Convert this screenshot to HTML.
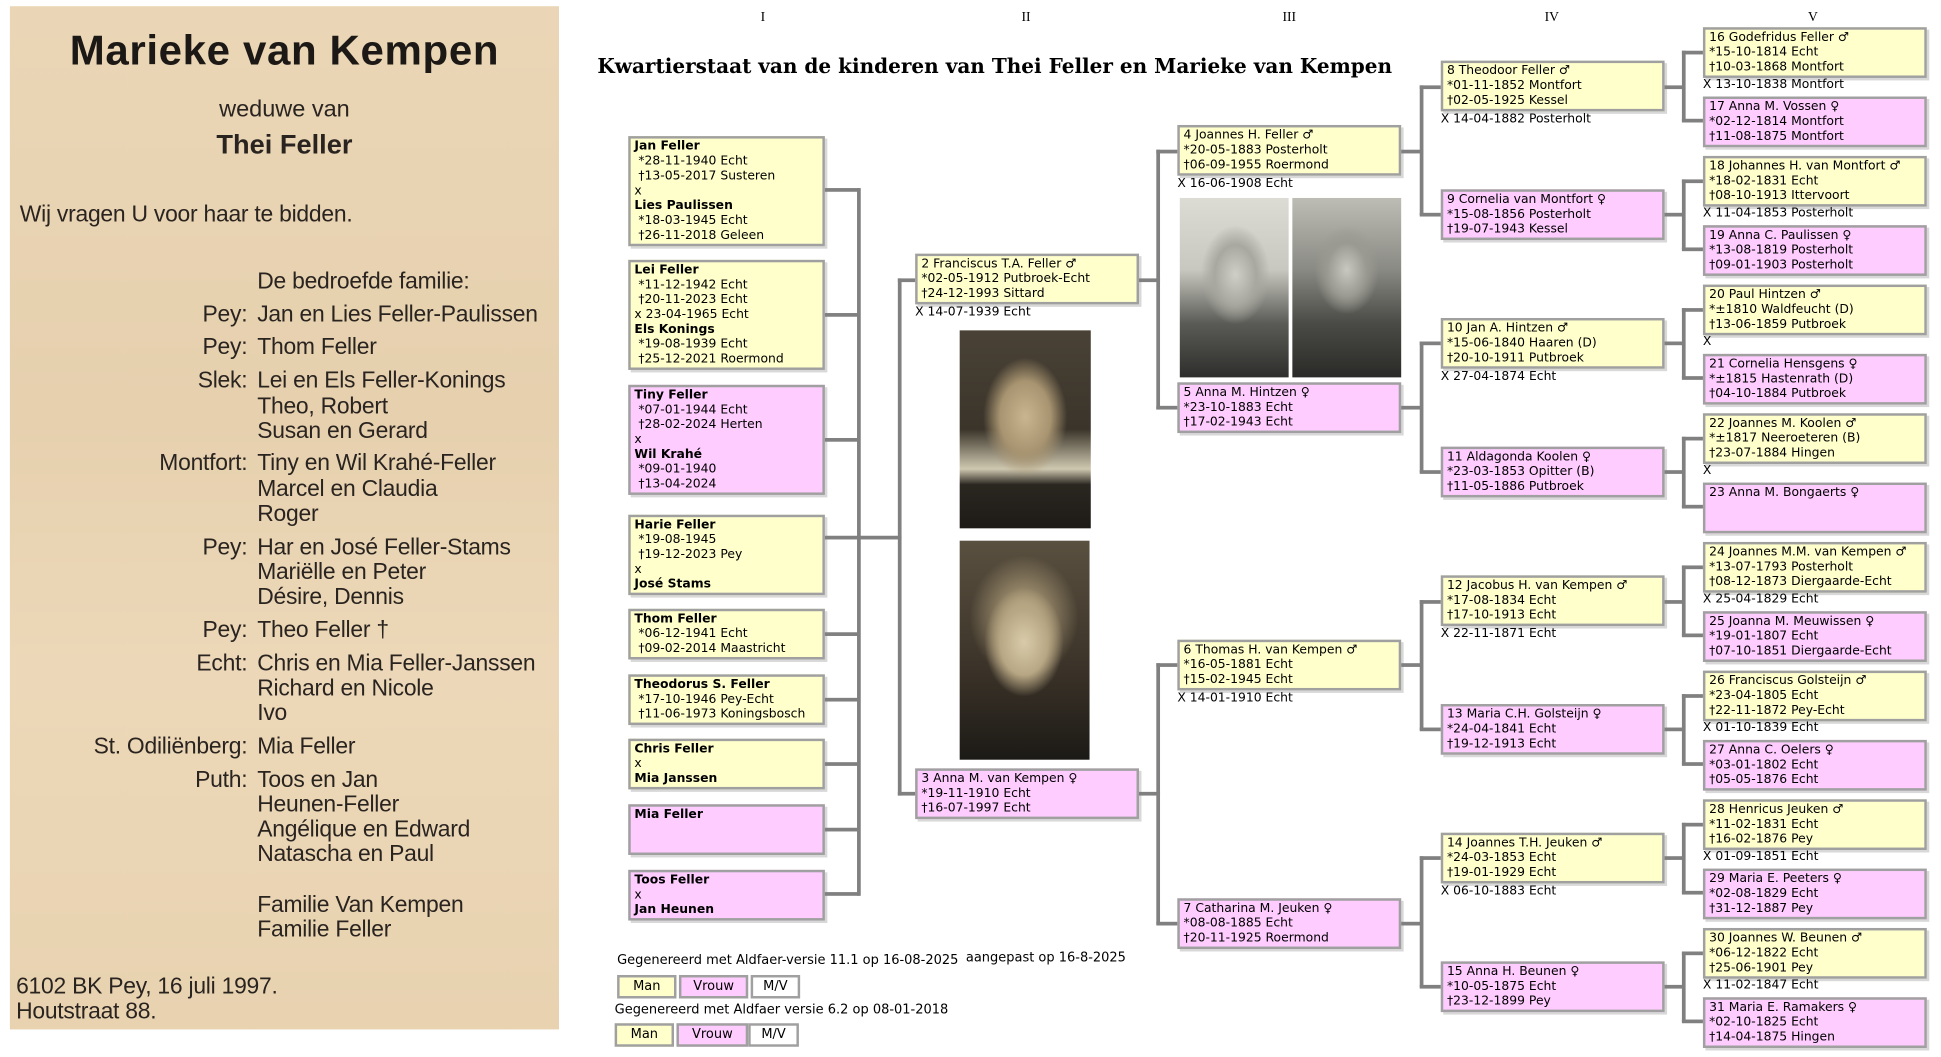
<!DOCTYPE html>
<html><head><meta charset="utf-8">
<style>
html,body{margin:0;padding:0;background:#fff;}
body{width:1941px;height:1057px;overflow:hidden;position:relative;}
#w{position:absolute;left:0;top:0;width:1560px;height:850px;transform:scale(1.2367,1.2373);transform-origin:0 0;font-family:"DejaVu Sans","Liberation Sans",sans-serif;font-size:10px;color:#000;}
.b{position:absolute;box-sizing:border-box;border:2px solid #a0a0a0;box-shadow:2px 2px 0 #d8d8d8;padding:1px 3px;line-height:12px;font-size:10px;white-space:nowrap;overflow:hidden;}
.m{background:#ffffcc;}.f{background:#ffccff;}
.t{position:absolute;font-size:10px;line-height:12px;white-space:nowrap;}
.h{position:absolute;height:3px;background:#808080;}
.v{position:absolute;width:3px;background:#808080;}
.cl{position:absolute;top:8px;font-family:"Liberation Serif",serif;font-size:11px;}
#np{position:absolute;left:8px;top:5px;width:444px;height:827px;background:linear-gradient(180deg,#ead6b6 0%,#e6d0ae 40%,#ecd8b8 65%,#e8d2b0 100%);font-family:"Liberation Sans",sans-serif;color:#2a2420;}
#np div{position:absolute;white-space:nowrap;}
.nl{font-size:18.5px;line-height:20px;letter-spacing:-0.2px;}
.lab{right:252px;text-align:right;}
.val{left:200px;}
.ph{position:absolute;}
.btn{position:absolute;box-sizing:border-box;border:2px solid #a0a0a0;font-size:10.5px;text-align:center;line-height:14px;}
</style></head><body><div id="w">

<div id="np">
<div style="left:0;width:444px;top:16px;text-align:center;font-size:34px;font-weight:bold;line-height:40px;color:#1c1815;letter-spacing:0.5px">Marieke van Kempen</div>
<div style="left:0;width:444px;top:72px;text-align:center;font-size:19px;line-height:24px">weduwe van</div>
<div style="left:0;width:444px;top:98px;text-align:center;font-size:22px;font-weight:bold;line-height:28px">Thei Feller</div>
<div class="nl" style="left:8px;top:158px">Wij vragen U voor haar te bidden.</div>
<div class="nl val" style="top:212px">De bedroefde familie:</div>
<div class="nl lab" style="top:239px">Pey:</div><div class="nl val" style="top:239px">Jan en Lies Feller-Paulissen</div>
<div class="nl lab" style="top:265px">Pey:</div><div class="nl val" style="top:265px">Thom Feller</div>
<div class="nl lab" style="top:292px">Slek:</div><div class="nl val" style="top:292px">Lei en Els Feller-Konings</div>
<div class="nl val" style="top:313px">Theo, Robert</div>
<div class="nl val" style="top:333px">Susan en Gerard</div>
<div class="nl lab" style="top:359px">Montfort:</div><div class="nl val" style="top:359px">Tiny en Wil Krahé-Feller</div>
<div class="nl val" style="top:380px">Marcel en Claudia</div>
<div class="nl val" style="top:400px">Roger</div>
<div class="nl lab" style="top:427px">Pey:</div><div class="nl val" style="top:427px">Har en José Feller-Stams</div>
<div class="nl val" style="top:447px">Mariëlle en Peter</div>
<div class="nl val" style="top:467px">Désire, Dennis</div>
<div class="nl lab" style="top:494px">Pey:</div><div class="nl val" style="top:494px">Theo Feller †</div>
<div class="nl lab" style="top:521px">Echt:</div><div class="nl val" style="top:521px">Chris en Mia Feller-Janssen</div>
<div class="nl val" style="top:541px">Richard en Nicole</div>
<div class="nl val" style="top:561px">Ivo</div>
<div class="nl lab" style="top:588px">St. Odiliënberg:</div><div class="nl val" style="top:588px">Mia Feller</div>
<div class="nl lab" style="top:615px">Puth:</div><div class="nl val" style="top:615px">Toos en Jan</div>
<div class="nl val" style="top:635px">Heunen-Feller</div>
<div class="nl val" style="top:655px">Angélique en Edward</div>
<div class="nl val" style="top:675px">Natascha en Paul</div>
<div class="nl val" style="top:716px">Familie Van Kempen</div>
<div class="nl val" style="top:736px">Familie Feller</div>
<div class="nl" style="left:5px;top:782px">6102 BK Pey, 16 juli 1997.</div>
<div class="nl" style="left:5px;top:802px">Houtstraat 88.</div>
</div>

<div class="cl" style="left:615px">I</div>
<div class="cl" style="left:826px">II</div>
<div class="cl" style="left:1037px">III</div>
<div class="cl" style="left:1249px">IV</div>
<div class="cl" style="left:1462px">V</div>
<div style="position:absolute;left:483px;top:44px;font-family:'DejaVu Serif','Liberation Serif',serif;font-weight:bold;font-size:16.2px;white-space:nowrap">Kwartierstaat van de kinderen van Thei Feller en Marieke van Kempen</div>

<!-- Column I -->
<div class="b m" style="left:508px;top:110px;width:159px;height:89px"><b>Jan Feller</b><br>&nbsp;*28-11-1940 Echt<br>&nbsp;†13-05-2017 Susteren<br>x<br><b>Lies Paulissen</b><br>&nbsp;*18-03-1945 Echt<br>&nbsp;†26-11-2018 Geleen</div>
<div class="b m" style="left:508px;top:210px;width:159px;height:89px"><b>Lei Feller</b><br>&nbsp;*11-12-1942 Echt<br>&nbsp;†20-11-2023 Echt<br>x 23-04-1965 Echt<br><b>Els Konings</b><br>&nbsp;*19-08-1939 Echt<br>&nbsp;†25-12-2021 Roermond</div>
<div class="b f" style="left:508px;top:311px;width:159px;height:89px"><b>Tiny Feller</b><br>&nbsp;*07-01-1944 Echt<br>&nbsp;†28-02-2024 Herten<br>x<br><b>Wil Krahé</b><br>&nbsp;*09-01-1940<br>&nbsp;†13-04-2024</div>
<div class="b m" style="left:508px;top:416px;width:159px;height:65px"><b>Harie Feller</b><br>&nbsp;*19-08-1945<br>&nbsp;†19-12-2023 Pey<br>x<br><b>José Stams</b></div>
<div class="b m" style="left:508px;top:492px;width:159px;height:41px"><b>Thom Feller</b><br>&nbsp;*06-12-1941 Echt<br>&nbsp;†09-02-2014 Maastricht</div>
<div class="b m" style="left:508px;top:545px;width:159px;height:41px"><b>Theodorus S. Feller</b><br>&nbsp;*17-10-1946 Pey-Echt<br>&nbsp;†11-06-1973 Koningsbosch</div>
<div class="b m" style="left:508px;top:597px;width:159px;height:41px"><b>Chris Feller</b><br>x<br><b>Mia Janssen</b></div>
<div class="b f" style="left:508px;top:650px;width:159px;height:41px"><b>Mia Feller</b></div>
<div class="b f" style="left:508px;top:703px;width:159px;height:41px"><b>Toos Feller</b><br>x<br><b>Jan Heunen</b></div>

<div class="h" style="left:667px;top:152px;width:28px"></div>
<div class="h" style="left:667px;top:253px;width:28px"></div>
<div class="h" style="left:667px;top:354px;width:28px"></div>
<div class="h" style="left:667px;top:433px;width:28px"></div>
<div class="h" style="left:667px;top:511px;width:28px"></div>
<div class="h" style="left:667px;top:564px;width:28px"></div>
<div class="h" style="left:667px;top:616px;width:28px"></div>
<div class="h" style="left:667px;top:669px;width:28px"></div>
<div class="h" style="left:667px;top:721px;width:28px"></div>
<div class="v" style="left:693px;top:152px;height:572px"></div>
<div class="h" style="left:693px;top:433px;width:36px"></div>
<div class="v" style="left:726px;top:225px;height:418px"></div>
<div class="h" style="left:726px;top:225px;width:15px"></div>
<div class="h" style="left:726px;top:640px;width:15px"></div>

<!-- Column II -->
<div class="b m" style="left:740px;top:205px;width:181px;height:41px">2 Franciscus T.A. Feller ♂<br>*02-05-1912 Putbroek-Echt<br>†24-12-1993 Sittard</div>
<div class="t" style="left:740px;top:247px">X 14-07-1939 Echt</div>
<div class="ph" style="left:776px;top:267px;width:106px;height:160px;background:radial-gradient(ellipse 34px 48px at 53px 70px,#c9b58f 0%,#a89470 60%,transparent 100%),linear-gradient(180deg,#4a4236 0%,#3a342a 50%,#cfc8b0 70%,#2a2620 78%,#1e1b17 100%)"></div>
<div class="ph" style="left:776px;top:437px;width:105px;height:177px;background:radial-gradient(ellipse 32px 44px at 52px 82px,#d9cbaa 0%,#b8a784 60%,transparent 100%),radial-gradient(ellipse 44px 50px at 52px 62px,#c9b68c 0%,transparent 100%),linear-gradient(180deg,#5a5040 0%,#3a3228 60%,#1c1a16 100%)"></div>
<div class="b f" style="left:740px;top:621px;width:181px;height:41px">3 Anna M. van Kempen ♀<br>*19-11-1910 Echt<br>†16-07-1997 Echt</div>

<div class="h" style="left:921px;top:225px;width:17px"></div>
<div class="h" style="left:921px;top:640px;width:17px"></div>
<div class="v" style="left:935px;top:121px;height:210px"></div>
<div class="v" style="left:935px;top:536px;height:211px"></div>
<div class="h" style="left:935px;top:121px;width:18px"></div>
<div class="h" style="left:935px;top:328px;width:18px"></div>
<div class="h" style="left:935px;top:536px;width:18px"></div>
<div class="h" style="left:935px;top:745px;width:18px"></div>

<!-- Column III -->
<div class="b m" style="left:952px;top:101px;width:181px;height:41px">4 Joannes H. Feller ♂<br>*20-05-1883 Posterholt<br>†06-09-1955 Roermond</div>
<div class="t" style="left:952px;top:143px">X 16-06-1908 Echt</div>
<div class="ph" style="left:954px;top:160px;width:88px;height:145px;background:radial-gradient(ellipse 28px 40px at 45px 62px,#cfcfc8 0%,#a8a8a0 60%,transparent 100%),linear-gradient(180deg,#dcdcd4 0%,#c8c8c0 40%,#5a5a56 70%,#2e2e2c 100%)"></div>
<div class="ph" style="left:1045px;top:160px;width:88px;height:145px;background:radial-gradient(ellipse 26px 36px at 44px 58px,#c8c8c0 0%,#9a9a92 60%,transparent 100%),linear-gradient(180deg,#bdbdb5 0%,#8a8a84 40%,#4a4a46 70%,#2a2a28 100%)"></div>
<div class="b f" style="left:952px;top:309px;width:181px;height:41px">5 Anna M. Hintzen ♀<br>*23-10-1883 Echt<br>†17-02-1943 Echt</div>
<div class="b m" style="left:952px;top:517px;width:181px;height:41px">6 Thomas H. van Kempen ♂<br>*16-05-1881 Echt<br>†15-02-1945 Echt</div>
<div class="t" style="left:952px;top:559px">X 14-01-1910 Echt</div>
<div class="b f" style="left:952px;top:726px;width:181px;height:41px">7 Catharina M. Jeuken ♀<br>*08-08-1885 Echt<br>†20-11-1925 Roermond</div>

<div class="h" style="left:1133px;top:121px;width:17px"></div>
<div class="h" style="left:1133px;top:328px;width:17px"></div>
<div class="h" style="left:1133px;top:536px;width:17px"></div>
<div class="h" style="left:1133px;top:745px;width:17px"></div>
<div class="v" style="left:1148px;top:69px;height:105px"></div>
<div class="v" style="left:1148px;top:276px;height:106px"></div>
<div class="v" style="left:1148px;top:485px;height:105px"></div>
<div class="v" style="left:1148px;top:692px;height:106px"></div>
<div class="h" style="left:1148px;top:69px;width:18px"></div>
<div class="h" style="left:1148px;top:172px;width:18px"></div>
<div class="h" style="left:1148px;top:276px;width:18px"></div>
<div class="h" style="left:1148px;top:380px;width:18px"></div>
<div class="h" style="left:1148px;top:485px;width:18px"></div>
<div class="h" style="left:1148px;top:588px;width:18px"></div>
<div class="h" style="left:1148px;top:692px;width:18px"></div>
<div class="h" style="left:1148px;top:796px;width:18px"></div>

<!-- Column IV -->
<div class="b m" style="left:1165px;top:49px;width:181px;height:41px">8 Theodoor Feller ♂<br>*01-11-1852 Montfort<br>†02-05-1925 Kessel</div>
<div class="t" style="left:1165px;top:91px">X 14-04-1882 Posterholt</div>
<div class="b f" style="left:1165px;top:153px;width:181px;height:41px">9 Cornelia van Montfort ♀<br>*15-08-1856 Posterholt<br>†19-07-1943 Kessel</div>
<div class="b m" style="left:1165px;top:257px;width:181px;height:41px">10 Jan A. Hintzen ♂<br>*15-06-1840 Haaren (D)<br>†20-10-1911 Putbroek</div>
<div class="t" style="left:1165px;top:299px">X 27-04-1874 Echt</div>
<div class="b f" style="left:1165px;top:361px;width:181px;height:41px">11 Aldagonda Koolen ♀<br>*23-03-1853 Opitter (B)<br>†11-05-1886 Putbroek</div>
<div class="b m" style="left:1165px;top:465px;width:181px;height:41px">12 Jacobus H. van Kempen ♂<br>*17-08-1834 Echt<br>†17-10-1913 Echt</div>
<div class="t" style="left:1165px;top:507px">X 22-11-1871 Echt</div>
<div class="b f" style="left:1165px;top:569px;width:181px;height:41px">13 Maria C.H. Golsteijn ♀<br>*24-04-1841 Echt<br>†19-12-1913 Echt</div>
<div class="b m" style="left:1165px;top:673px;width:181px;height:41px">14 Joannes T.H. Jeuken ♂<br>*24-03-1853 Echt<br>†19-01-1929 Echt</div>
<div class="t" style="left:1165px;top:715px">X 06-10-1883 Echt</div>
<div class="b f" style="left:1165px;top:777px;width:181px;height:41px">15 Anna H. Beunen ♀<br>*10-05-1875 Echt<br>†23-12-1899 Pey</div>

<div class="h" style="left:1346px;top:69px;width:16px"></div>
<div class="h" style="left:1346px;top:172px;width:16px"></div>
<div class="h" style="left:1346px;top:276px;width:16px"></div>
<div class="h" style="left:1346px;top:380px;width:16px"></div>
<div class="h" style="left:1346px;top:485px;width:16px"></div>
<div class="h" style="left:1346px;top:588px;width:16px"></div>
<div class="h" style="left:1346px;top:692px;width:16px"></div>
<div class="h" style="left:1346px;top:796px;width:16px"></div>
<div class="v" style="left:1360px;top:41px;height:57px"></div>
<div class="v" style="left:1360px;top:145px;height:57px"></div>
<div class="v" style="left:1360px;top:249px;height:57px"></div>
<div class="v" style="left:1360px;top:353px;height:57px"></div>
<div class="v" style="left:1360px;top:457px;height:57px"></div>
<div class="v" style="left:1360px;top:561px;height:57px"></div>
<div class="v" style="left:1360px;top:665px;height:57px"></div>
<div class="v" style="left:1360px;top:769px;height:57px"></div>
<div class="h" style="left:1360px;top:41px;width:18px"></div><div class="h" style="left:1360px;top:96px;width:18px"></div>
<div class="h" style="left:1360px;top:145px;width:18px"></div><div class="h" style="left:1360px;top:200px;width:18px"></div>
<div class="h" style="left:1360px;top:249px;width:18px"></div><div class="h" style="left:1360px;top:304px;width:18px"></div>
<div class="h" style="left:1360px;top:353px;width:18px"></div><div class="h" style="left:1360px;top:408px;width:18px"></div>
<div class="h" style="left:1360px;top:457px;width:18px"></div><div class="h" style="left:1360px;top:512px;width:18px"></div>
<div class="h" style="left:1360px;top:561px;width:18px"></div><div class="h" style="left:1360px;top:616px;width:18px"></div>
<div class="h" style="left:1360px;top:665px;width:18px"></div><div class="h" style="left:1360px;top:720px;width:18px"></div>
<div class="h" style="left:1360px;top:769px;width:18px"></div><div class="h" style="left:1360px;top:824px;width:18px"></div>

<!-- Column V -->
<div class="b m" style="left:1377px;top:22px;width:181px;height:41px">16 Godefridus Feller ♂<br>*15-10-1814 Echt<br>†10-03-1868 Montfort</div>
<div class="t" style="left:1377px;top:63px">X 13-10-1838 Montfort</div>
<div class="b f" style="left:1377px;top:78px;width:181px;height:41px">17 Anna M. Vossen ♀<br>*02-12-1814 Montfort<br>†11-08-1875 Montfort</div>
<div class="b m" style="left:1377px;top:126px;width:181px;height:41px">18 Johannes H. van Montfort ♂<br>*18-02-1831 Echt<br>†08-10-1913 Ittervoort</div>
<div class="t" style="left:1377px;top:167px">X 11-04-1853 Posterholt</div>
<div class="b f" style="left:1377px;top:182px;width:181px;height:41px">19 Anna C. Paulissen ♀<br>*13-08-1819 Posterholt<br>†09-01-1903 Posterholt</div>
<div class="b m" style="left:1377px;top:230px;width:181px;height:41px">20 Paul Hintzen ♂<br>*±1810 Waldfeucht (D)<br>†13-06-1859 Putbroek</div>
<div class="t" style="left:1377px;top:271px">X</div>
<div class="b f" style="left:1377px;top:286px;width:181px;height:41px">21 Cornelia Hensgens ♀<br>*±1815 Hastenrath (D)<br>†04-10-1884 Putbroek</div>
<div class="b m" style="left:1377px;top:334px;width:181px;height:41px">22 Joannes M. Koolen ♂<br>*±1817 Neeroeteren (B)<br>†23-07-1884 Hingen</div>
<div class="t" style="left:1377px;top:375px">X</div>
<div class="b f" style="left:1377px;top:390px;width:181px;height:41px">23 Anna M. Bongaerts ♀</div>
<div class="b m" style="left:1377px;top:438px;width:181px;height:41px">24 Joannes M.M. van Kempen ♂<br>*13-07-1793 Posterholt<br>†08-12-1873 Diergaarde-Echt</div>
<div class="t" style="left:1377px;top:479px">X 25-04-1829 Echt</div>
<div class="b f" style="left:1377px;top:494px;width:181px;height:41px">25 Joanna M. Meuwissen ♀<br>*19-01-1807 Echt<br>†07-10-1851 Diergaarde-Echt</div>
<div class="b m" style="left:1377px;top:542px;width:181px;height:41px">26 Franciscus Golsteijn ♂<br>*23-04-1805 Echt<br>†22-11-1872 Pey-Echt</div>
<div class="t" style="left:1377px;top:583px">X 01-10-1839 Echt</div>
<div class="b f" style="left:1377px;top:598px;width:181px;height:41px">27 Anna C. Oelers ♀<br>*03-01-1802 Echt<br>†05-05-1876 Echt</div>
<div class="b m" style="left:1377px;top:646px;width:181px;height:41px">28 Henricus Jeuken ♂<br>*11-02-1831 Echt<br>†16-02-1876 Pey</div>
<div class="t" style="left:1377px;top:687px">X 01-09-1851 Echt</div>
<div class="b f" style="left:1377px;top:702px;width:181px;height:41px">29 Maria E. Peeters ♀<br>*02-08-1829 Echt<br>†31-12-1887 Pey</div>
<div class="b m" style="left:1377px;top:750px;width:181px;height:41px">30 Joannes W. Beunen ♂<br>*06-12-1822 Echt<br>†25-06-1901 Pey</div>
<div class="t" style="left:1377px;top:791px">X 11-02-1847 Echt</div>
<div class="b f" style="left:1377px;top:806px;width:181px;height:41px">31 Maria E. Ramakers ♀<br>*02-10-1825 Echt<br>†14-04-1875 Hingen</div>

<!-- Footer -->
<div class="t" style="left:499px;top:770px;font-size:10.5px">Gegenereerd met Aldfaer-versie 11.1 op 16-08-2025</div>
<div class="t" style="left:781px;top:768px;font-size:10.5px">aangepast op 16-8-2025</div>
<div class="btn m" style="left:499px;top:788px;width:48px;height:19px">Man</div>
<div class="btn f" style="left:549px;top:788px;width:56px;height:19px">Vrouw</div>
<div class="btn" style="left:607px;top:788px;width:40px;height:19px;background:#fff">M/V</div>
<div class="t" style="left:497px;top:810px;font-size:10.5px">Gegenereerd met Aldfaer versie 6.2 op 08-01-2018</div>
<div class="btn m" style="left:497px;top:827px;width:48px;height:19px">Man</div>
<div class="btn f" style="left:547px;top:827px;width:58px;height:19px">Vrouw</div>
<div class="btn" style="left:605px;top:827px;width:41px;height:19px;background:#fff">M/V</div>

</div></body></html>
